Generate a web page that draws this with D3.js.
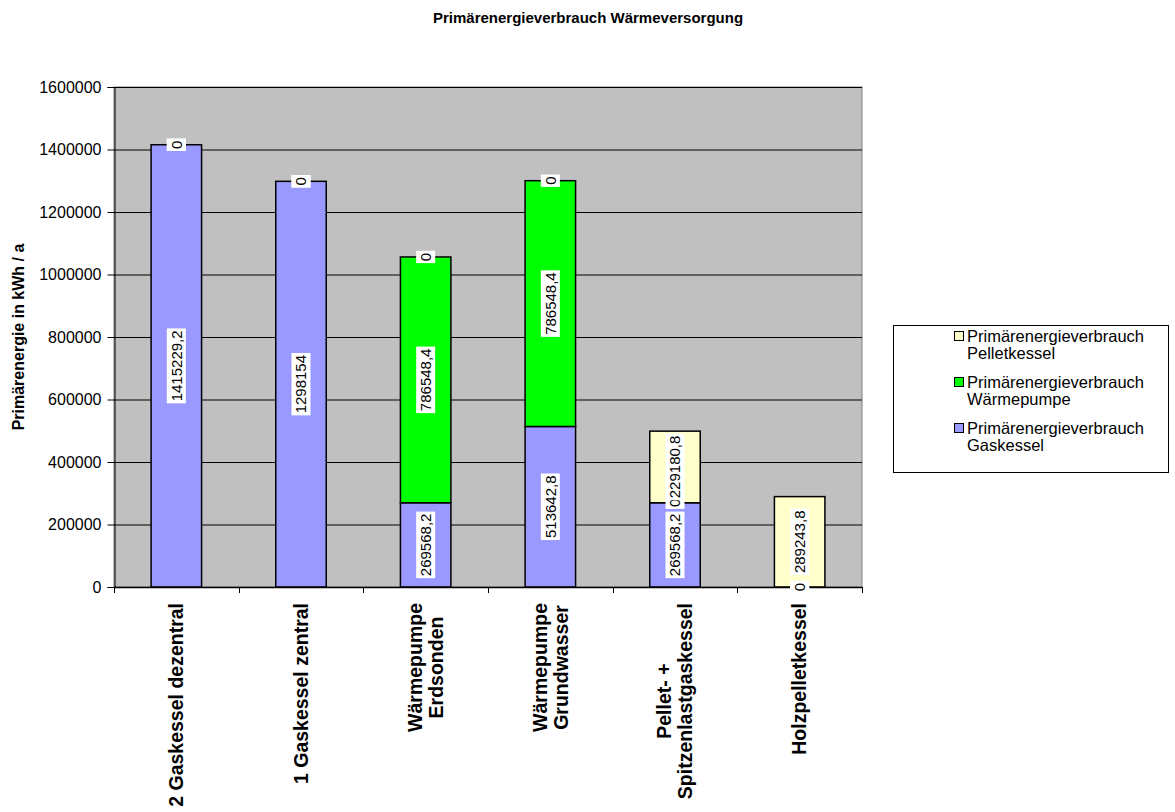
<!DOCTYPE html>
<html>
<head>
<meta charset="utf-8">
<script src="https://cdn.jsdelivr.net/npm/d3@7"></script>
<style>
  html, body { margin: 0; padding: 0; background: #fff; }
  svg { display: block; font-family: Arial, "Liberation Sans", sans-serif; }
</style>
</head>
<body>
<svg id="chart" width="1175" height="812"></svg>
<script>
// Heating variants (two-line labels split with "\n")
const categories = [
  "2 Gaskessel dezentral",
  "1 Gaskessel zentral",
  "Wärmepumpe\nErdsonden",
  "Wärmepumpe\nGrundwasser",
  "Pellet- +\nSpitzenlastgaskessel",
  "Holzpelletkessel"
];

// Primary energy per source, kWh / a
const gaskessel   = [1415229.2, 1298154, 269568.2, 513642.8, 269568.2, 0];
const waermepumpe = [0, 0, 786548.4, 786548.4, 0, 0];
const pelletkessel = [0, 0, 0, 0, 229180.8, 289243.8];

const seriesNames = [
  "Primärenergieverbrauch\nGaskessel",
  "Primärenergieverbrauch\nWärmepumpe",
  "Primärenergieverbrauch\nPelletkessel"
];
const seriesColors = ["#9999FF", "#00FF00", "#FFFFCC"];

const yTicks = [0, 200000, 400000, 600000, 800000, 1000000, 1200000, 1400000, 1600000];

const fmt = v => String(v).replace(".", ",");

const svg = d3.select("#chart");
const plot = { left: 114, right: 862, top: 87, bottom: 587 };

const x = d3.scaleBand().domain(categories).range([plot.left, plot.right]).padding(0);
const y = d3.scaleLinear().domain([0, 1600000]).range([plot.bottom, plot.top]);
const barW = x.bandwidth() * 0.405;

// Stack the three sources
const rows = categories.map((c, i) => ({ cat: c, g: gaskessel[i], w: waermepumpe[i], p: pelletkessel[i] }));
const stacked = d3.stack().keys(["g", "w", "p"])(rows);

// Title
svg.append("text")
  .attr("x", 588).attr("y", 23)
  .attr("text-anchor", "middle")
  .attr("font-size", 15).attr("font-weight", "bold")
  .text("Primärenergieverbrauch Wärmeversorgung");

// Plot background
svg.append("rect")
  .attr("x", plot.left).attr("y", plot.top)
  .attr("width", plot.right - plot.left).attr("height", plot.bottom - plot.top)
  .attr("fill", "#C0C0C0").attr("stroke", "#808080").attr("stroke-width", 1);

// Gridlines
svg.append("g").selectAll("line").data(yTicks.filter(t => t > 0)).join("line")
  .attr("x1", plot.left).attr("x2", plot.right)
  .attr("y1", d => y(d) + 0.5).attr("y2", d => y(d) + 0.5)
  .attr("stroke", "#000").attr("stroke-width", 1);

// Y axis
const yAxis = svg.append("g")
  .attr("transform", `translate(${plot.left + 0.5},0)`)
  .call(d3.axisLeft(y).tickValues(yTicks).tickSize(7).tickPadding(6).tickFormat(d => String(d)));
yAxis.select(".domain").attr("stroke", "#000");
yAxis.selectAll(".tick line").attr("stroke", "#000");
yAxis.selectAll(".tick text").attr("font-size", 16).attr("fill", "#000")
  .attr("font-family", "Arial, 'Liberation Sans', sans-serif");

// Y axis title
svg.append("text")
  .attr("transform", `translate(24,${(plot.top + plot.bottom) / 2}) rotate(-90)`)
  .attr("text-anchor", "middle")
  .attr("font-size", 16).attr("font-weight", "bold")
  .text("Primärenergie in kWh / a");

// Bars
const barG = svg.append("g");
stacked.forEach((layer, si) => {
  barG.append("g").selectAll("rect").data(layer).join("rect")
    .attr("x", d => x(d.data.cat) + x.bandwidth() / 2 - barW / 2)
    .attr("width", barW)
    .attr("y", d => y(d[1]))
    .attr("height", d => y(d[0]) - y(d[1]))
    .attr("fill", seriesColors[si])
    .attr("stroke", d => (d[1] - d[0]) > 0 ? "#000" : "none")
    .attr("stroke-width", 1.5);
});

// X axis line with boundary ticks
svg.append("line")
  .attr("x1", plot.left).attr("x2", plot.right)
  .attr("y1", plot.bottom + 0.5).attr("y2", plot.bottom + 0.5)
  .attr("stroke", "#000").attr("stroke-width", 1.5);
const bounds = categories.map(c => x(c)).concat([plot.right]);
svg.append("g").selectAll("line").data(bounds).join("line")
  .attr("x1", d => Math.round(d) + 0.5).attr("x2", d => Math.round(d) + 0.5)
  .attr("y1", plot.bottom).attr("y2", plot.bottom + 6)
  .attr("stroke", "#000");

// X category labels, rotated, lines centred on each other
categories.forEach(c => {
  const lines = c.split("\n");
  const g = svg.append("g")
    .attr("transform", `translate(${x(c) + x.bandwidth() / 2},${plot.bottom}) rotate(-90)`);
  const t = g.append("text")
    .attr("font-size", 19.5).attr("font-weight", "bold")
    .attr("text-anchor", "middle");
  const lh = 21;
  const spans = lines.map((l, i) => t.append("tspan")
    .attr("y", (i - (lines.length - 1) / 2) * lh)
    .attr("dy", "0.35em")
    .text(l));
  const maxW = d3.max(spans, s => s.node().getComputedTextLength());
  spans.forEach(s => s.attr("x", -16 - maxW / 2));
});

// Data labels: white boxes with rotated values, centred in each segment
const labG = svg.append("g");
stacked.forEach(layer => {
  layer.forEach(d => {
    const v = d[1] - d[0];
    const cx = x(d.data.cat) + x.bandwidth() / 2;
    const cy = y((d[0] + d[1]) / 2);
    const g = labG.append("g").attr("transform", `translate(${cx},${cy}) rotate(-90)`);
    const t = g.append("text")
      .attr("text-anchor", "middle").attr("dy", "0.35em")
      .attr("font-size", 15).attr("fill", "#000")
      .text(fmt(Math.round(v * 10) / 10));
    const w = t.node().getComputedTextLength();
    g.insert("rect", "text")
      .attr("x", -w / 2 - 2).attr("y", -9.5)
      .attr("width", w + 4).attr("height", 19)
      .attr("fill", "#fff");
  });
});

// Legend (entries listed top-down in reverse stacking order)
const lg = svg.append("g");
lg.append("rect")
  .attr("x", 893.5).attr("y", 325.5).attr("width", 275).attr("height", 147)
  .attr("fill", "#fff").attr("stroke", "#000");
[2, 1, 0].forEach((si, k) => {
  const top = 336 + k * 46;
  lg.append("rect")
    .attr("x", 954.5).attr("y", top - 4.5).attr("width", 9).attr("height", 9)
    .attr("fill", seriesColors[si]).attr("stroke", "#000");
  const t = lg.append("text").attr("font-size", 16.5);
  seriesNames[si].split("\n").forEach((l, i) => {
    t.append("tspan").attr("x", 967).attr("y", top + i * 17).attr("dy", "0.35em").text(l);
  });
});
</script>
</body>
</html>
